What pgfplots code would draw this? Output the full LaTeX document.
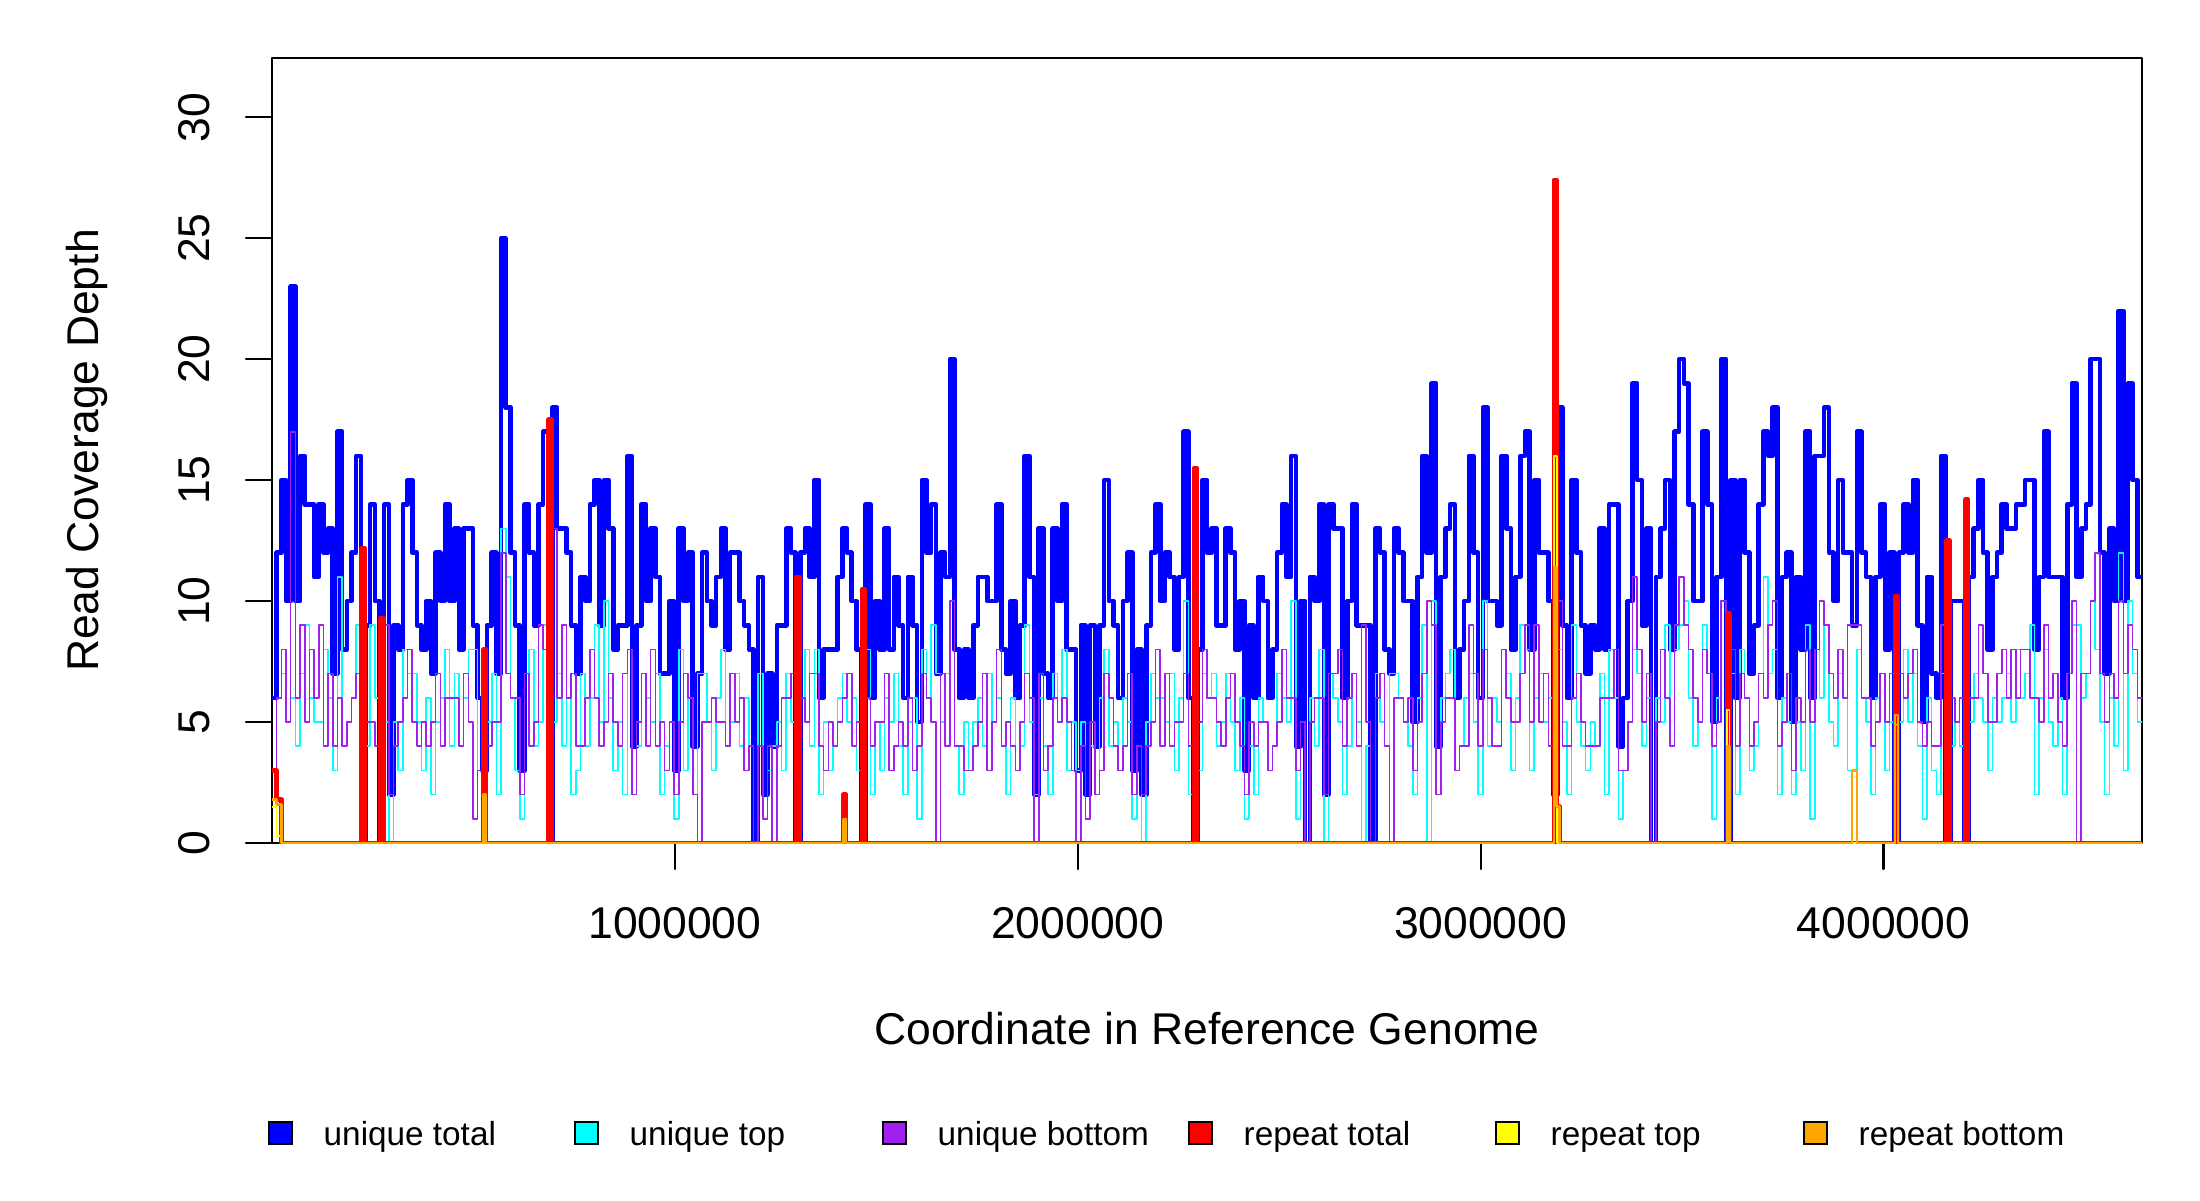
\documentclass[border=0pt]{standalone}
\usepackage{pgfplots}
\pgfplotsset{compat=1.18}
\usepackage{pgfplotstable}
\usepackage{fontspec}
\setmainfont{Liberation Sans}
\definecolor{rblue}{HTML}{0000FF}
\definecolor{rcyan}{HTML}{00FFFF}
\definecolor{rpurple}{HTML}{A020F0}
\definecolor{rred}{HTML}{FF0000}
\definecolor{ryellow}{HTML}{FFFF00}
\definecolor{rorange}{HTML}{FFA500}

% bin index (bin width 11604.13 bp), unique total, unique top, unique bottom
\pgfplotstableread{
k t c b
0 6 3 3
1 12 6 6
2 15 7 8
3 10 5 5
4 23 6 17
5 10 4 6
6 16 7 9
7 14 9 5
8 14 6 8
9 11 5 6
10 14 5 9
11 12 8 4
12 13 6 7
13 7 3 4
14 17 11 6
15 8 4 4
16 10 5 5
17 12 6 6
18 16 9 7
19 0 0 0
20 9 4 5
21 14 9 5
22 10 6 4
23 0 0 0
24 14 5 9
25 2 0 2
26 9 5 4
27 8 3 5
28 14 8 6
29 15 7 8
30 12 7 5
31 9 5 4
32 8 3 5
33 10 6 4
34 7 2 5
35 12 5 7
36 10 6 4
37 14 8 6
38 10 4 6
39 13 7 6
40 8 4 4
41 13 6 7
42 13 8 5
43 9 8 1
44 6 3 3
45 3 1 2
46 9 5 4
47 12 7 5
48 7 2 5
49 25 13 12
50 18 11 7
51 12 6 6
52 9 3 6
53 3 1 2
54 14 7 7
55 12 8 4
56 9 4 5
57 14 5 9
58 17 9 8
59 0 0 0
60 18 5 13
61 13 7 6
62 13 4 9
63 12 6 6
64 9 2 7
65 7 3 4
66 11 7 4
67 10 4 6
68 14 6 8
69 15 9 6
70 9 5 4
71 15 10 5
72 13 6 7
73 8 3 5
74 9 5 4
75 9 2 7
76 16 8 8
77 4 2 2
78 9 4 5
79 14 7 7
80 10 6 4
81 13 5 8
82 11 7 4
83 7 2 5
84 7 4 3
85 10 5 5
86 3 1 2
87 13 8 5
88 10 3 7
89 12 6 6
90 4 2 2
91 7 7 0
92 12 7 5
93 10 5 5
94 9 3 6
95 11 6 5
96 13 8 5
97 8 4 4
98 12 5 7
99 12 7 5
100 10 4 6
101 9 6 3
102 8 4 4
103 0 0 0
104 11 7 4
105 2 1 1
106 7 3 4
107 4 4 0
108 9 5 4
109 9 3 6
110 13 7 6
111 12 5 7
112 0 0 0
113 12 6 6
114 13 8 5
115 11 4 7
116 15 8 7
117 6 2 4
118 8 5 3
119 8 3 5
120 8 4 4
121 11 6 5
122 13 7 6
123 12 5 7
124 10 6 4
125 8 3 5
126 0 0 0
127 14 8 6
128 6 2 4
129 10 5 5
130 8 3 5
131 13 6 7
132 8 5 3
133 11 7 4
134 9 4 5
135 6 2 4
136 11 5 6
137 9 6 3
138 5 1 4
139 15 8 7
140 12 6 6
141 14 9 5
142 7 7 0
143 12 5 7
144 11 7 4
145 20 10 10
146 8 4 4
147 6 2 4
148 8 5 3
149 6 3 3
150 9 5 4
151 11 6 5
152 11 4 7
153 10 7 3
154 10 5 5
155 14 6 8
156 8 4 4
157 7 2 5
158 10 6 4
159 6 3 3
160 9 4 5
161 16 9 7
162 11 5 6
163 2 2 0
164 13 6 7
165 7 4 3
166 6 2 4
167 13 7 6
168 10 5 5
169 14 8 6
170 8 3 5
171 8 5 3
172 3 3 0
173 9 5 4
174 2 1 1
175 9 4 5
176 4 2 2
177 9 6 3
178 15 8 7
179 10 4 6
180 9 5 4
181 6 3 3
182 10 6 4
183 12 5 7
184 3 1 2
185 8 4 4
186 2 0 2
187 9 5 4
188 12 7 5
189 14 6 8
190 10 6 4
191 12 5 7
192 11 7 4
193 8 3 5
194 11 6 5
195 17 10 7
196 6 2 4
197 0 0 0
198 8 3 5
199 15 7 8
200 12 6 6
201 13 7 6
202 9 4 5
203 9 5 4
204 13 7 6
205 12 5 7
206 8 3 5
207 10 6 4
208 3 1 2
209 9 4 5
210 6 2 4
211 11 6 5
212 10 5 5
213 6 3 3
214 8 4 4
215 12 7 5
216 14 6 8
217 11 5 6
218 16 10 6
219 4 1 3
220 10 5 5
221 0 0 0
222 11 6 5
223 10 4 6
224 14 8 6
225 2 0 2
226 14 7 7
227 13 6 7
228 13 5 8
229 6 2 4
230 10 4 6
231 14 7 7
232 9 5 4
233 9 0 9
234 9 4 5
235 0 0 0
236 13 7 6
237 12 5 7
238 8 4 4
239 7 7 0
240 13 7 6
241 12 6 6
242 10 5 5
243 10 4 6
244 5 2 3
245 11 6 5
246 16 9 7
247 12 0 10
248 19 10 9
249 4 2 2
250 11 6 5
251 13 7 6
252 14 8 6
253 6 3 3
254 8 4 4
255 10 6 4
256 16 7 9
257 12 5 7
258 6 2 4
259 18 10 8
260 10 4 6
261 10 6 4
262 9 5 4
263 16 8 8
264 13 7 6
265 8 3 5
266 11 6 5
267 16 9 7
268 17 8 9
269 8 3 5
270 15 6 9
271 12 7 5
272 12 5 7
273 10 6 4
274 2 1 1
275 18 8 10
276 9 5 4
277 6 2 4
278 15 9 6
279 12 5 7
280 9 4 5
281 7 3 4
282 9 5 4
283 8 4 4
284 13 7 6
285 8 2 6
286 14 8 6
287 14 6 8
288 4 1 3
289 6 3 3
290 10 5 5
291 19 8 11
292 15 7 8
293 9 4 5
294 13 6 7
295 0 0 0
296 11 6 5
297 13 5 8
298 15 9 6
299 8 4 4
300 17 8 9
301 20 9 11
302 19 10 9
303 14 6 8
304 10 4 6
305 10 5 5
306 17 9 8
307 14 7 7
308 5 1 4
309 11 6 5
310 20 10 10
311 0 0 0
312 15 7 8
313 6 2 4
314 15 8 7
315 12 6 6
316 7 3 4
317 9 4 5
318 14 7 7
319 17 11 6
320 16 7 9
321 18 8 10
322 6 2 4
323 11 6 5
324 12 5 7
325 5 2 3
326 11 5 6
327 8 3 5
328 17 9 8
329 6 1 5
330 16 8 8
331 16 6 10
332 18 9 9
333 12 5 7
334 10 4 6
335 15 7 8
336 12 6 6
337 12 3 9
338 9 0 9
339 17 8 9
340 12 6 6
341 11 5 6
342 6 2 4
343 11 6 5
344 14 7 7
345 8 3 5
346 12 5 7
347 0 0 0
348 12 5 7
349 14 8 6
350 12 5 7
351 15 7 8
352 9 4 5
353 5 1 4
354 11 6 5
355 7 3 4
356 6 2 4
357 16 7 9
358 0 0 0
359 10 4 6
360 10 5 5
361 10 4 6
362 0 0 0
363 11 5 6
364 13 7 6
365 15 6 9
366 12 5 7
367 8 3 5
368 11 6 5
369 12 5 7
370 14 6 8
371 13 7 6
372 13 5 8
373 14 8 6
374 14 6 8
375 15 7 8
376 15 9 6
377 8 2 6
378 11 6 5
379 17 8 9
380 11 5 6
381 11 4 7
382 11 6 5
383 6 2 4
384 14 7 7
385 19 9 10
386 11 9 0
387 13 6 7
388 14 7 7
389 20 10 10
390 20 8 12
391 12 5 7
392 7 2 5
393 13 6 7
394 10 4 6
395 22 12 10
396 10 3 7
397 19 10 9
398 15 7 8
399 11 5 6
400 11 5 6
}\uniq

% repeat total
\pgfplotstableread{
k r
0 3
1 1.8
2 0
19.2 12.2
19.8 0
23.2 9.3
23.8 0
45.2 8
45.8 0
59.2 17.5
59.8 0
112.2 11
112.8 0
122.2 2
122.8 0
126.2 10.5
126.8 0
197.2 15.5
197.8 0
274.2 27.4
274.8 1.5
275.4 0
311.2 9.5
311.8 0
347.2 10.2
347.8 0
358.2 12.5
358.8 0
362.2 14.2
362.8 0
400 0
}\rtot

% repeat top
\pgfplotstableread{
k r
0 1.5
1 0.3
2 0
122.2 1
122.8 0
274.2 16
274.8 0
311.2 5.5
311.8 0
347.2 4.9
347.8 0
400 0
}\rtop

% repeat bottom
\pgfplotstableread{
k r
0 1.8
1 1.6
2 0
45.2 2
45.8 0
122.2 1
122.8 0
274.2 11.4
274.8 1.5
275.4 0
311.2 4
311.8 0
338 3
339 0
347.2 5.3
347.8 0
400 0
}\rbot

\newcommand{\bigfont}{\fontsize{12.66}{15}\selectfont}
\newcommand{\legfont}{\fontsize{9.48}{11}\selectfont}

\begin{document}
\begin{tikzpicture}[x=1cm,y=1cm]
\useasboundingbox (0,0) rectangle (22,12);
\begin{axis}[
  at={(2.72cm,3.57cm)}, anchor=south west,
  scale only axis, width=18.70cm, height=7.85cm,
  xmin=0, xmax=4641652, ymin=0, ymax=32.45,
  scaled x ticks=false, scaled y ticks=false,
  axis line style={line width=0.6pt, black},
  xtick={1000000,2000000,3000000,4000000},
  xticklabels={1000000,2000000,3000000,4000000},
  ytick={0,5,10,15,20,25,30},
  yticklabels={0,5,10,15,20,25,30},
  tick pos=left, tick align=outside, major tick length=0.26cm,
  tick style={line width=0.6pt, black},
  every tick label/.append style={font=\bigfont},
  xticklabel style={anchor=base, inner sep=0pt, yshift=-0.69cm},
  yticklabel style={xshift=-0.37cm, rotate=90, anchor=base, inner sep=0pt},
  xlabel={Coordinate in Reference Genome},
  ylabel={Read Coverage Depth},
  every axis label/.append style={font=\bigfont},
  xlabel style={at={(axis description cs:0.5,-0.2573)}, anchor=base, inner sep=0pt},
  ylabel style={at={(axis description cs:-0.0930,0.5)}, anchor=base, inner sep=0pt},
  line join=round, line cap=round,
]
\addplot[const plot mark left, color=rblue, line width=1.3pt] table[x expr=\thisrow{k}*11604.13, y=t] {\uniq};
\addplot[const plot mark left, color=rcyan, line width=0.45pt] table[x expr=\thisrow{k}*11604.13, y=c] {\uniq};
\addplot[const plot mark left, color=rpurple, line width=0.45pt] table[x expr=\thisrow{k}*11604.13, y=b] {\uniq};
\addplot[const plot mark left, color=rred, line width=1.3pt] table[x expr=\thisrow{k}*11604.13, y=r] {\rtot};
\addplot[const plot mark left, color=ryellow, line width=0.45pt] table[x expr=\thisrow{k}*11604.13, y=r] {\rtop};
\addplot[const plot mark left, color=rorange, line width=0.7pt] table[x expr=\thisrow{k}*11604.13, y=r] {\rbot};
\end{axis}
\foreach \x/\c/\t in {2.69/rblue/unique total, 5.75/rcyan/unique top, 8.83/rpurple/unique bottom, 11.89/rred/repeat total, 14.96/ryellow/repeat top, 18.04/rorange/repeat bottom}{
  \draw[fill=\c, draw=black, line width=0.6pt] (\x,0.56) rectangle ++(0.23,0.22);
  \node[anchor=base west, inner sep=0pt, font=\legfont] at (\x+0.54,0.55) {\t};
}
\end{tikzpicture}
\end{document}
